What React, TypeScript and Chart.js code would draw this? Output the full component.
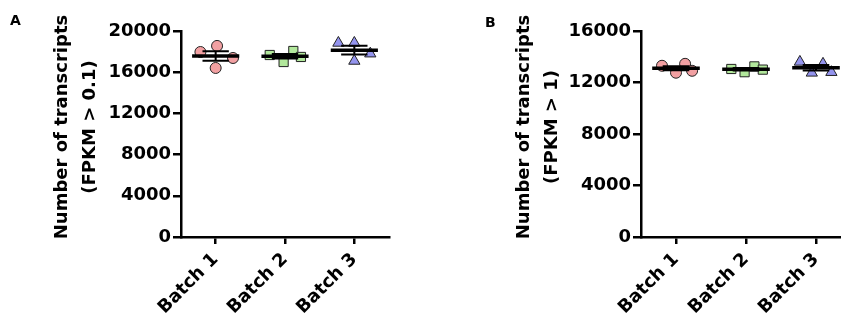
import React, { useEffect, useRef } from 'react';
import { Chart, registerables } from 'chart.js';

Chart.register(...registerables);

// ---------- data ----------
const categories = ['Batch 1', 'Batch 2', 'Batch 3'];

const yTicksA = [0, 4000, 8000, 12000, 16000, 20000];
const yTicksB = [0, 4000, 8000, 12000, 16000];

// Panel A: Number of transcripts (FPKM > 0.1)
const batch1A = [18550, 17960, 17380, 16410];
const batch2A = [17670, 16990, 18060, 17480];
const batch3A = [18840, 18840, 17090, 17800];

// Panel B: Number of transcripts (FPKM > 1)
const batch1B = [13300, 12760, 13450, 12910];
const batch2B = [13050, 12800, 13250, 13000];
const batch3B = [13600, 12750, 13450, 12800];

// horizontal scatter offsets (in category units)
const jitter1A = [0.02, -0.22, 0.25, 0];
const jitter2A = [-0.22, -0.02, 0.12, 0.23];
const jitter3A = [-0.23, 0, 0, 0.23];
const jitter1B = [-0.2, 0, 0.13, 0.23];
const jitter2B = [-0.21, -0.02, 0.12, 0.24];
const jitter3B = [-0.23, -0.06, 0.1, 0.22];

const FONT = '"DejaVu Sans", "Liberation Sans", Arial, sans-serif';

const markerStyles = [
  { pointStyle: 'circle', radius: 5.5, fill: '#F2A0A2' },
  { pointStyle: 'rect', radius: 6.5, fill: '#B2E89C' },
  { pointStyle: 'triangle', radius: 6.5, fill: '#9494EE' },
];

function mean(a: number[]) {
  return a.reduce((s, v) => s + v, 0) / a.length;
}
function sem(a: number[]) {
  const m = mean(a);
  const v = a.reduce((s, x) => s + (x - m) * (x - m), 0) / (a.length - 1);
  return Math.sqrt(v) / Math.sqrt(a.length);
}

const errorBarPlugin = {
  id: 'errorBars',
  afterDatasetsDraw(chart: any, _args: any, opts: any) {
    const { ctx } = chart;
    const xs = chart.scales.x;
    const ys = chart.scales.y;
    const series: number[][] = opts.series || [];
    ctx.save();
    ctx.strokeStyle = '#000';
    ctx.lineCap = 'butt';
    series.forEach((vals, i) => {
      const c = i + 1;
      const m = mean(vals);
      const e = sem(vals);
      const ym = ys.getPixelForValue(m);
      const yt = ys.getPixelForValue(m + e);
      const yb = ys.getPixelForValue(m - e);
      ctx.lineWidth = 2;
      ctx.beginPath();
      ctx.moveTo(xs.getPixelForValue(c), yt);
      ctx.lineTo(xs.getPixelForValue(c), yb);
      ctx.moveTo(xs.getPixelForValue(c - 0.19), yt);
      ctx.lineTo(xs.getPixelForValue(c + 0.19), yt);
      ctx.moveTo(xs.getPixelForValue(c - 0.19), yb);
      ctx.lineTo(xs.getPixelForValue(c + 0.19), yb);
      ctx.stroke();
      ctx.lineWidth = 3.5;
      ctx.beginPath();
      ctx.moveTo(xs.getPixelForValue(c - 0.34), ym);
      ctx.lineTo(xs.getPixelForValue(c + 0.34), ym);
      ctx.stroke();
    });
    ctx.restore();
  },
};

const annotatePlugin = {
  id: 'annotate',
  afterDraw(chart: any, _args: any, opts: any) {
    const { ctx } = chart;
    ctx.save();
    ctx.fillStyle = '#000';
    ctx.font = `bold 18px ${FONT}`;
    ctx.textAlign = 'center';
    ctx.textBaseline = 'middle';
    (opts.titleLines || []).forEach((line: string, i: number) => {
      ctx.save();
      ctx.translate(opts.titleX + i * opts.lineGap, opts.titleY);
      ctx.rotate(-Math.PI / 2);
      ctx.fillText(line, 0, 0);
      ctx.restore();
    });
    ctx.font = `bold 14px ${FONT}`;
    ctx.textAlign = 'left';
    ctx.textBaseline = 'alphabetic';
    ctx.fillText(opts.letter, opts.letterX, opts.letterY);
    ctx.restore();
  },
};

interface PanelProps {
  left: number;
  series: number[][];
  jitters: number[][];
  yTicks: number[];
  titleLines: string[];
  letter: string;
  layout: {
    padLeft: number;
    yWidth: number;
    padRight: number;
    titleX: number;
    titleY: number;
    letterX: number;
    letterY: number;
  };
}

const W = 430;
const H = 322;

function Panel(props: PanelProps) {
  const ref = useRef<HTMLCanvasElement | null>(null);
  useEffect(() => {
    if (!ref.current) return;
    const { series, jitters, yTicks, layout } = props;
    const datasets = series.map((vals, i) => ({
      label: categories[i],
      data: vals.map((v, j) => ({ x: i + 1 + jitters[i][j], y: v })),
      pointStyle: markerStyles[i].pointStyle as any,
      pointRadius: markerStyles[i].radius,
      backgroundColor: markerStyles[i].fill,
      borderColor: '#222',
      borderWidth: 1,
      showLine: false,
    }));
    const chart = new Chart(ref.current, {
      type: 'scatter',
      data: { datasets },
      options: {
        animation: false,
        responsive: false,
        devicePixelRatio: 1,
        layout: {
          padding: { left: layout.padLeft, top: 31, right: layout.padRight, bottom: 0 },
        },
        plugins: {
          legend: { display: false },
          tooltip: { enabled: false },
          errorBars: { series },
          annotate: {
            titleLines: props.titleLines,
            titleX: layout.titleX,
            titleY: layout.titleY,
            lineGap: 28.5,
            letter: props.letter,
            letterX: layout.letterX,
            letterY: layout.letterY,
          },
        } as any,
        scales: {
          x: {
            type: 'linear',
            min: 0.5,
            max: 3.5,
            afterBuildTicks: (scale: any) => {
              scale.ticks = categories.map((_, i) => ({ value: i + 1 }));
            },
            afterFit: (scale: any) => {
              scale.height = 85;
            },
            ticks: {
              autoSkip: false,
              minRotation: 45,
              maxRotation: 45,
              padding: 5,
              color: '#000',
              font: { family: FONT, size: 18, weight: 'bold' },
              callback: (v: any) => categories[Math.round(Number(v)) - 1] ?? '',
            },
            grid: {
              drawOnChartArea: false,
              drawTicks: true,
              tickLength: 7,
              color: '#000',
              lineWidth: 2.5,
            },
            border: { display: true, color: '#000', width: 2.5 },
          },
          y: {
            type: 'linear',
            min: yTicks[0],
            max: yTicks[yTicks.length - 1],
            afterBuildTicks: (scale: any) => {
              scale.ticks = yTicks.map((v) => ({ value: v }));
            },
            afterFit: (scale: any) => {
              scale.width = layout.yWidth;
            },
            ticks: {
              padding: 2,
              color: '#000',
              font: { family: FONT, size: 18, weight: 'bold' },
              callback: (v: any) => String(v),
            },
            grid: {
              drawOnChartArea: false,
              drawTicks: true,
              tickLength: 8,
              color: '#000',
              lineWidth: 2.5,
            },
            border: { display: true, color: '#000', width: 2.5 },
          },
        },
      } as any,
      plugins: [errorBarPlugin, annotatePlugin],
    });
    return () => chart.destroy();
  }, []);
  return (
    <canvas
      ref={ref}
      width={W}
      height={H}
      style={{ position: 'absolute', left: props.left, top: 0, width: W, height: H }}
    />
  );
}

export default function App() {
  return (
    <div
      style={{
        position: 'fixed',
        left: 0,
        top: 0,
        width: 841,
        height: 322,
        overflow: 'hidden',
        background: '#fff',
      }}
    >
      <Panel
        left={0}
        series={[batch1A, batch2A, batch3A]}
        jitters={[jitter1A, jitter2A, jitter3A]}
        yTicks={yTicksA}
        titleLines={['Number of transcripts', '(FPKM > 0.1)']}
        letter="A"
        layout={{ padLeft: 40, yWidth: 141, padRight: 41, titleX: 62, titleY: 127, letterX: 10, letterY: 25 }}
      />
      <Panel
        left={430}
        series={[batch1B, batch2B, batch3B]}
        jitters={[jitter1B, jitter2B, jitter3B]}
        yTicks={yTicksB}
        titleLines={['Number of transcripts', '(FPKM > 1)']}
        letter="B"
        layout={{ padLeft: 72, yWidth: 139, padRight: 9, titleX: 94, titleY: 127, letterX: 55, letterY: 27 }}
      />
    </div>
  );
}
